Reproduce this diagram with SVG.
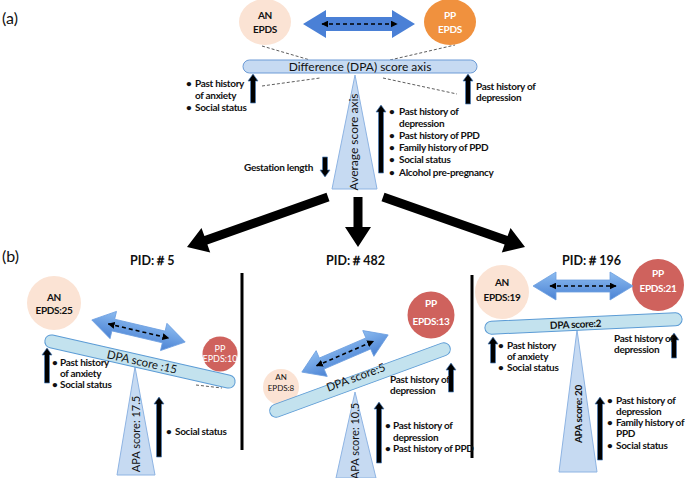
<svg xmlns="http://www.w3.org/2000/svg" width="685" height="478" viewBox="0 0 685 478">
<defs>
<linearGradient id="blueArr" x1="0" y1="0" x2="0" y2="1">
<stop offset="0" stop-color="#8dbcf0"/>
<stop offset="1" stop-color="#4a82d4"/>
</linearGradient>
<marker id="dh" viewBox="0 0 10 10" refX="9" refY="5" markerWidth="7" markerHeight="7" markerUnits="userSpaceOnUse" orient="auto-start-reverse">
<path d="M0,0 L10,5 L0,10 Z" fill="#000"/>
</marker>
<path id="dbl" d="M-50,0 L-27,-14 L-27,-6 L27,-6 L27,-14 L50,0 L27,14 L27,6 L-27,6 L-27,14 Z"/>
</defs>
<style>
text{font-family:Lato,"Liberation Sans",sans-serif;fill:#111}
.b{font-weight:bold;font-size:10px;letter-spacing:-0.3px}
.lab{font-size:16px}
.pid{font-weight:bold;font-size:12.5px}
.wt{fill:#fff}
.mid{text-anchor:middle}
.an{fill:#fbe3d4}
.pp{fill:#cf625d}
.beamA{fill:#c6daf2;stroke:#6c9bd6;stroke-width:1}
.beamB{fill:#c3e2ee;stroke:#5b9bd5;stroke-width:1}
.tri{fill:#c6daf2;stroke:#8eb4e3;stroke-width:1}
.blk{fill:url(#blueArr);stroke:#6d9fe0;stroke-width:0.8}
.dash{stroke:#000;stroke-width:1.6;stroke-dasharray:4 3;fill:none;marker-start:url(#dh);marker-end:url(#dh)}
.thin{stroke:#333;stroke-width:0.8;stroke-dasharray:3 2;fill:none}
.up{fill:#000;stroke:#4a7ebb;stroke-width:0.7}
.big{fill:#000}
.vl{stroke:#000;stroke-width:3}
</style>

<text class="lab" x="2" y="24">(a)</text>
<text class="lab" x="2" y="262">(b)</text>

<!-- Panel (a) -->
<g id="a-thin-lines">
<line class="thin" x1="262" y1="46" x2="310" y2="60"/>
<line class="thin" x1="390" y1="60" x2="455" y2="45"/>
<line class="thin" x1="262" y1="86" x2="320" y2="78"/>
<line class="thin" x1="383" y1="78" x2="457" y2="94"/>
</g>
<g id="a-an">
<ellipse class="an" cx="265" cy="22" rx="26" ry="23"/>
<text class="b mid" font-size="10.5" x="265" y="19">AN</text>
<text class="b mid" font-size="10.5" x="265" y="33">EPDS</text>
</g>
<g id="a-pp">
<ellipse cx="450" cy="22" rx="26" ry="23" fill="#f0913e"/>
<text class="b mid wt" font-size="10.5" x="450" y="19">PP</text>
<text class="b mid wt" font-size="10.5" x="450" y="33">EPDS</text>
</g>
<g id="a-double-arrow">
<path d="M303,24 L326,10 L326,17 L392,17 L392,10 L415,24 L392,38 L392,31 L326,31 L326,38 Z" fill="#4a80d6"/>
<line class="dash" x1="322" y1="24" x2="397" y2="24"/>
</g>
<g id="a-triangle">
<path class="tri" d="M355,75 L377,189 L332,189 Z"/>
<text class="mid" font-size="12" transform="translate(358,142) rotate(-90)">Average score axis</text>
</g>
<g id="a-beam">
<rect class="beamA" x="243" y="60" width="234" height="13" rx="6.5"/>
<text class="mid" font-size="12" x="360" y="71">Difference (DPA) score axis</text>
</g>
<g id="a-left-factors">
<path class="up" d="M250.5,103 V81 H248 L253,74 L258,81 H255.5 V103 Z"/>
<text class="b" x="186" y="87">•</text><text class="b" x="195" y="87">Past history</text>
<text class="b" x="195" y="99">of anxiety</text>
<text class="b" x="186" y="111">•</text><text class="b" x="195" y="111">Social status</text>
</g>
<g id="a-right-factors">
<path class="up" d="M465.5,104 V81 H463 L468,74 L473,81 H470.5 V104 Z"/>
<text class="b" x="476" y="90">Past history of</text>
<text class="b" x="476" y="101">depression</text>
</g>
<g id="a-avg-factors">
<path class="up" d="M378.5,173 V112 H376 L381,105 L386,112 H383.5 V173 Z"/>
<text class="b" x="389" y="115">•</text><text class="b" x="399" y="115">Past history of</text>
<text class="b" x="399" y="127">depression</text>
<text class="b" x="389" y="139">•</text><text class="b" x="399" y="139">Past history of PPD</text>
<text class="b" x="389" y="151">•</text><text class="b" x="399" y="151">Family history of PPD</text>
<text class="b" x="389" y="163">•</text><text class="b" x="399" y="163">Social status</text>
<text class="b" x="389" y="176">•</text><text class="b" x="399" y="176">Alcohol pre-pregnancy</text>
</g>
<g id="a-gestation">
<text class="b" x="244" y="171">Gestation length</text>
<path class="up" d="M322.5,157 V170 H320 L325,177 L330,170 H327.5 V157 Z"/>
</g>

<!-- connectors -->
<g id="connectors">
<polygon class="big" points="329.5,201.2 207.4,244.6 210.2,252.6 187,247 201.5,228.1 204.4,236.1 326.5,192.8"/>
<polygon class="big" points="353.5,197 362.5,197 362.5,227 371,227 358,247 345,227 353.5,227"/>
<polygon class="big" points="381.5,201.3 504.6,244.6 501.8,252.6 525,247 510.5,228.1 507.6,236.1 384.5,192.8"/>
</g>

<g id="dividers">
<line class="vl" x1="242" y1="273" x2="242" y2="450"/>
<line class="vl" x1="472" y1="275" x2="472" y2="458"/>
</g>

<!-- PID 5 -->
<g id="pid5">
<text class="pid" x="130" y="265">PID:＃5</text>
<g id="pid5-an">
<circle class="an" cx="54" cy="303" r="27"/>
<text class="b mid" font-size="11.5" x="54" y="301">AN</text>
<text class="b mid" font-size="11.5" x="54" y="314">EPDS:25</text>
</g>
<g id="pid5-arrow" transform="translate(138.5,331) rotate(13.3)">
<use href="#dbl" class="blk" transform="scale(0.96,1)"/>
<line class="dash" x1="-31" y1="0" x2="31" y2="0"/>
</g>
<g id="pid5-pp">
<circle class="pp" cx="220" cy="354" r="17.5"/>
<text class="mid wt" font-size="9" x="220" y="352">PP</text>
<text class="mid wt" font-size="9" x="220" y="362">EPDS:10</text>
</g>
<line class="thin" x1="196" y1="385" x2="222" y2="388"/>
<g id="pid5-tri">
<path class="tri" d="M135,367 L155,475 L117,475 Z"/>
<text class="mid" font-size="11" transform="translate(140,434) rotate(-90)">APA score: 17.5</text>
</g>
<g id="pid5-beam" transform="translate(140,361.5) rotate(12.75)">
<rect class="beamB" x="-97.4" y="-6.5" width="194.8" height="13" rx="6.5"/>
<text class="mid" font-size="11.5" x="2" y="4">DPA score :15</text>
</g>
<path class="up" d="M44.5,383 V355 H42 L47,348 L52,355 H49.5 V383 Z"/>
<text class="b" x="52" y="366">•</text><text class="b" x="60" y="366">Past history</text>
<text class="b" x="60" y="377">of anxiety</text>
<text class="b" x="52" y="388">•</text><text class="b" x="60" y="388">Social status</text>
<path class="up" d="M156.5,457 V404 H154 L159,397 L164,404 H161.5 V457 Z"/>
<text class="b" x="166" y="435">•</text><text class="b" x="175" y="435">Social status</text>
</g>

<!-- PID 482 -->
<g id="pid482">
<text class="pid" x="326" y="265">PID:＃482</text>
<g id="pid482-pp">
<circle class="pp" cx="431" cy="315" r="23.5"/>
<text class="b mid wt" font-size="12.5" x="431" y="307">PP</text>
<text class="b mid wt" font-size="12.5" x="431" y="325">EPDS:13</text>
</g>
<g id="pid482-an">
<circle class="an" cx="281" cy="387" r="18"/>
<text class="mid" font-size="8" x="281" y="380">AN</text>
<text class="mid" font-size="8" x="281" y="391">EPDS:8</text>
</g>
<g id="pid482-arrow" transform="translate(345,353.5) rotate(-23.3)">
<use href="#dbl" class="blk" transform="scale(0.94,1)"/>
<line class="dash" x1="-31" y1="0" x2="31" y2="0"/>
</g>
<g id="pid482-tri">
<path class="tri" d="M355,392 L376,478 L336,478 Z"/>
<text class="mid" font-size="11" transform="translate(359,441) rotate(-90)">APA score: 10.5</text>
</g>
<g id="pid482-beam" transform="translate(360,380) rotate(-20.14)">
<rect class="beamB" x="-95.8" y="-6.5" width="191.6" height="13" rx="6.5"/>
<text class="mid" font-size="11.5" x="-3" y="0">DPA score:5</text>
</g>
<path class="up" d="M448.5,392 V370 H446 L451,363 L456,370 H453.5 V392 Z"/>
<text class="b" x="390" y="383">Past history of</text>
<text class="b" x="390" y="394">depression</text>
<path class="up" d="M376.5,463 V409 H374 L379,402 L384,409 H381.5 V463 Z"/>
<text class="b" x="385" y="429">•</text><text class="b" x="393" y="429">Past history of</text>
<text class="b" x="393" y="441">depression</text>
<text class="b" x="385" y="452">•</text><text class="b" x="393" y="452">Past history of PPD</text>
</g>

<!-- PID 196 -->
<g id="pid196">
<text class="pid" x="562" y="265">PID:＃196</text>
<g id="pid196-an">
<circle class="an" cx="502" cy="292" r="27"/>
<text class="b mid" font-size="12" x="502" y="286">AN</text>
<text class="b mid" font-size="12" x="502" y="301">EPDS:19</text>
</g>
<g id="pid196-pp">
<circle class="pp" cx="658" cy="285" r="26"/>
<text class="b mid wt" font-size="12" x="658" y="277">PP</text>
<text class="b mid wt" font-size="12" x="658" y="292">EPDS:21</text>
</g>
<g id="pid196-arrow" transform="translate(583,286)">
<use href="#dbl" class="blk"/>
<line class="dash" x1="-33" y1="0" x2="33" y2="0"/>
</g>
<g id="pid196-tri">
<path class="tri" d="M577,330 L597,472 L559,472 Z"/>
<text class="mid b" font-size="11" transform="translate(582,414) rotate(-90)">APA score: 20</text>
</g>
<g id="pid196-beam" transform="translate(583.5,323.5) rotate(-2.6)">
<rect class="beamB" x="-98.7" y="-6.5" width="197.4" height="13" rx="6.5"/>
<text class="mid b" font-size="10.5" x="-8" y="4">DPA score:2</text>
</g>
<path class="up" d="M490.5,363 V344 H488 L493,337 L498,344 H495.5 V363 Z"/>
<text class="b" x="498" y="349">•</text><text class="b" x="507" y="349">Past history</text>
<text class="b" x="507" y="360">of anxiety</text>
<text class="b" x="498" y="371">•</text><text class="b" x="507" y="371">Social status</text>
<path class="up" d="M671.5,358 V340 H669 L674,333 L679,340 H676.5 V358 Z"/>
<text class="b" x="614" y="342">Past history of</text>
<text class="b" x="614" y="353">depression</text>
<path class="up" d="M597.5,460 V404 H595 L600,397 L605,404 H602.5 V460 Z"/>
<text class="b" x="607" y="404">•</text><text class="b" x="616" y="404">Past history of</text>
<text class="b" x="616" y="415">depression</text>
<text class="b" x="607" y="426">•</text><text class="b" x="616" y="426">Family  history of</text>
<text class="b" x="616" y="437">PPD</text>
<text class="b" x="607" y="449">•</text><text class="b" x="616" y="449">Social status</text>
</g>
</svg>
